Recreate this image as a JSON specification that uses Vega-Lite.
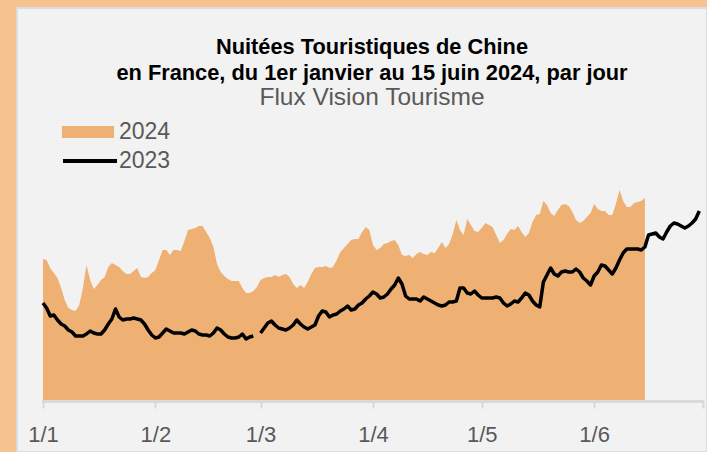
{
  "$schema": "https://vega.github.io/schema/vega-lite/v6.json",
  "width": 690,
  "height": 444,
  "autosize": "none",
  "padding": {"left": 17, "top": 8, "right": 0, "bottom": 0},
  "background": "#F6C290",
  "title": {
    "text": ["Nuitées Touristiques de Chine", "en France, du 1er janvier au 15 juin 2024, par jour"],
    "subtitle": "Flux Vision Tourisme",
    "anchor": "middle",
    "frame": "group",
    "orient": "top",
    "offset": -101,
    "dx": 10,
    "font": "Liberation Sans",
    "fontSize": 21.8,
    "fontWeight": "bold",
    "color": "#000000",
    "lineHeight": 26,
    "subtitleFont": "Liberation Sans",
    "subtitleFontSize": 24.5,
    "subtitleColor": "#595959",
    "subtitlePadding": 1
  },
  "config": {
    "font": "Liberation Sans",
    "view": {"fill": "#F2F2F2", "stroke": "#D8DEE2", "strokeWidth": 2}
  },
  "data": {
    "values": [
      {"date": "2024-01-01", "v2024": 141, "v2023": 97},
      {"date": "2024-01-02", "v2024": 140, "v2023": 92},
      {"date": "2024-01-03", "v2024": 132, "v2023": 84},
      {"date": "2024-01-04", "v2024": 127, "v2023": 85},
      {"date": "2024-01-05", "v2024": 122, "v2023": 80},
      {"date": "2024-01-06", "v2024": 112, "v2023": 76},
      {"date": "2024-01-07", "v2024": 100, "v2023": 74},
      {"date": "2024-01-08", "v2024": 92, "v2023": 70},
      {"date": "2024-01-09", "v2024": 90, "v2023": 68},
      {"date": "2024-01-10", "v2024": 89, "v2023": 64},
      {"date": "2024-01-11", "v2024": 95, "v2023": 64},
      {"date": "2024-01-12", "v2024": 112, "v2023": 64},
      {"date": "2024-01-13", "v2024": 135, "v2023": 66},
      {"date": "2024-01-14", "v2024": 120, "v2023": 69},
      {"date": "2024-01-15", "v2024": 111, "v2023": 67},
      {"date": "2024-01-16", "v2024": 115, "v2023": 66},
      {"date": "2024-01-17", "v2024": 120, "v2023": 66},
      {"date": "2024-01-18", "v2024": 123, "v2023": 70},
      {"date": "2024-01-19", "v2024": 133, "v2023": 76},
      {"date": "2024-01-20", "v2024": 137, "v2023": 81},
      {"date": "2024-01-21", "v2024": 135, "v2023": 91},
      {"date": "2024-01-22", "v2024": 133, "v2023": 83},
      {"date": "2024-01-23", "v2024": 129, "v2023": 80},
      {"date": "2024-01-24", "v2024": 126, "v2023": 81},
      {"date": "2024-01-25", "v2024": 126, "v2023": 81},
      {"date": "2024-01-26", "v2024": 129, "v2023": 82},
      {"date": "2024-01-27", "v2024": 132, "v2023": 81},
      {"date": "2024-01-28", "v2024": 123, "v2023": 80},
      {"date": "2024-01-29", "v2024": 122, "v2023": 76},
      {"date": "2024-01-30", "v2024": 123, "v2023": 70},
      {"date": "2024-01-31", "v2024": 127, "v2023": 65},
      {"date": "2024-02-01", "v2024": 130, "v2023": 62},
      {"date": "2024-02-02", "v2024": 140, "v2023": 63},
      {"date": "2024-02-03", "v2024": 150, "v2023": 67},
      {"date": "2024-02-04", "v2024": 150, "v2023": 71},
      {"date": "2024-02-05", "v2024": 145, "v2023": 69},
      {"date": "2024-02-06", "v2024": 150, "v2023": 67},
      {"date": "2024-02-07", "v2024": 150, "v2023": 67},
      {"date": "2024-02-08", "v2024": 149, "v2023": 67},
      {"date": "2024-02-09", "v2024": 159, "v2023": 66},
      {"date": "2024-02-10", "v2024": 170, "v2023": 68},
      {"date": "2024-02-11", "v2024": 171, "v2023": 70},
      {"date": "2024-02-12", "v2024": 172, "v2023": 69},
      {"date": "2024-02-13", "v2024": 174, "v2023": 66},
      {"date": "2024-02-14", "v2024": 174, "v2023": 65},
      {"date": "2024-02-15", "v2024": 168, "v2023": 65},
      {"date": "2024-02-16", "v2024": 162, "v2023": 64},
      {"date": "2024-02-17", "v2024": 153, "v2023": 67},
      {"date": "2024-02-18", "v2024": 136, "v2023": 72},
      {"date": "2024-02-19", "v2024": 128, "v2023": 70},
      {"date": "2024-02-20", "v2024": 124, "v2023": 66},
      {"date": "2024-02-21", "v2024": 121, "v2023": 63},
      {"date": "2024-02-22", "v2024": 119, "v2023": 62},
      {"date": "2024-02-23", "v2024": 119, "v2023": 62},
      {"date": "2024-02-24", "v2024": 119, "v2023": 63},
      {"date": "2024-02-25", "v2024": 112, "v2023": 66},
      {"date": "2024-02-26", "v2024": 107, "v2023": 61},
      {"date": "2024-02-27", "v2024": 107, "v2023": 63},
      {"date": "2024-02-28", "v2024": 109, "v2023": 64},
      {"date": "2024-02-29", "v2024": 113, "v2023": null},
      {"date": "2024-03-01", "v2024": 120, "v2023": 67},
      {"date": "2024-03-02", "v2024": 122, "v2023": 72},
      {"date": "2024-03-03", "v2024": 123, "v2023": 77},
      {"date": "2024-03-04", "v2024": 123, "v2023": 79},
      {"date": "2024-03-05", "v2024": 125, "v2023": 75},
      {"date": "2024-03-06", "v2024": 123, "v2023": 72},
      {"date": "2024-03-07", "v2024": 125, "v2023": 71},
      {"date": "2024-03-08", "v2024": 126, "v2023": 70},
      {"date": "2024-03-09", "v2024": 123, "v2023": 72},
      {"date": "2024-03-10", "v2024": 116, "v2023": 75},
      {"date": "2024-03-11", "v2024": 112, "v2023": 80},
      {"date": "2024-03-12", "v2024": 115, "v2023": 76},
      {"date": "2024-03-13", "v2024": 112, "v2023": 73},
      {"date": "2024-03-14", "v2024": 118, "v2023": 71},
      {"date": "2024-03-15", "v2024": 126, "v2023": 73},
      {"date": "2024-03-16", "v2024": 132, "v2023": 75},
      {"date": "2024-03-17", "v2024": 133, "v2023": 84},
      {"date": "2024-03-18", "v2024": 133, "v2023": 89},
      {"date": "2024-03-19", "v2024": 134, "v2023": 88},
      {"date": "2024-03-20", "v2024": 132, "v2023": 83},
      {"date": "2024-03-21", "v2024": 133, "v2023": 85},
      {"date": "2024-03-22", "v2024": 140, "v2023": 86},
      {"date": "2024-03-23", "v2024": 148, "v2023": 89},
      {"date": "2024-03-24", "v2024": 152, "v2023": 91},
      {"date": "2024-03-25", "v2024": 156, "v2023": 94},
      {"date": "2024-03-26", "v2024": 160, "v2023": 90},
      {"date": "2024-03-27", "v2024": 161, "v2023": 91},
      {"date": "2024-03-28", "v2024": 161, "v2023": 95},
      {"date": "2024-03-29", "v2024": 168, "v2023": 97},
      {"date": "2024-03-30", "v2024": 173, "v2023": 101},
      {"date": "2024-03-31", "v2024": 170, "v2023": 104},
      {"date": "2024-04-01", "v2024": 155, "v2023": 108},
      {"date": "2024-04-02", "v2024": 150, "v2023": 106},
      {"date": "2024-04-03", "v2024": 152, "v2023": 102},
      {"date": "2024-04-04", "v2024": 156, "v2023": 103},
      {"date": "2024-04-05", "v2024": 157, "v2023": 106},
      {"date": "2024-04-06", "v2024": 159, "v2023": 111},
      {"date": "2024-04-07", "v2024": 160, "v2023": 115},
      {"date": "2024-04-08", "v2024": 155, "v2023": 122},
      {"date": "2024-04-09", "v2024": 145, "v2023": 116},
      {"date": "2024-04-10", "v2024": 144, "v2023": 104},
      {"date": "2024-04-11", "v2024": 145, "v2023": 101},
      {"date": "2024-04-12", "v2024": 142, "v2023": 101},
      {"date": "2024-04-13", "v2024": 146, "v2023": 101},
      {"date": "2024-04-14", "v2024": 148, "v2023": 99},
      {"date": "2024-04-15", "v2024": 146, "v2023": 103},
      {"date": "2024-04-16", "v2024": 145, "v2023": 101},
      {"date": "2024-04-17", "v2024": 148, "v2023": 99},
      {"date": "2024-04-18", "v2024": 147, "v2023": 97},
      {"date": "2024-04-19", "v2024": 152, "v2023": 95},
      {"date": "2024-04-20", "v2024": 158, "v2023": 94},
      {"date": "2024-04-21", "v2024": 152, "v2023": 95},
      {"date": "2024-04-22", "v2024": 156, "v2023": 98},
      {"date": "2024-04-23", "v2024": 166, "v2023": 98},
      {"date": "2024-04-24", "v2024": 180, "v2023": 99},
      {"date": "2024-04-25", "v2024": 170, "v2023": 112},
      {"date": "2024-04-26", "v2024": 165, "v2023": 112},
      {"date": "2024-04-27", "v2024": 181, "v2023": 107},
      {"date": "2024-04-28", "v2024": 175, "v2023": 106},
      {"date": "2024-04-29", "v2024": 169, "v2023": 109},
      {"date": "2024-04-30", "v2024": 168, "v2023": 105},
      {"date": "2024-05-01", "v2024": 172, "v2023": 102},
      {"date": "2024-05-02", "v2024": 177, "v2023": 102},
      {"date": "2024-05-03", "v2024": 175, "v2023": 102},
      {"date": "2024-05-04", "v2024": 173, "v2023": 102},
      {"date": "2024-05-05", "v2024": 165, "v2023": 103},
      {"date": "2024-05-06", "v2024": 157, "v2023": 102},
      {"date": "2024-05-07", "v2024": 160, "v2023": 97},
      {"date": "2024-05-08", "v2024": 166, "v2023": 94},
      {"date": "2024-05-09", "v2024": 171, "v2023": 96},
      {"date": "2024-05-10", "v2024": 170, "v2023": 99},
      {"date": "2024-05-11", "v2024": 174, "v2023": 98},
      {"date": "2024-05-12", "v2024": 168, "v2023": 102},
      {"date": "2024-05-13", "v2024": 163, "v2023": 107},
      {"date": "2024-05-14", "v2024": 167, "v2023": 105},
      {"date": "2024-05-15", "v2024": 178, "v2023": 99},
      {"date": "2024-05-16", "v2024": 185, "v2023": 95},
      {"date": "2024-05-17", "v2024": 186, "v2023": 93},
      {"date": "2024-05-18", "v2024": 199, "v2023": 118},
      {"date": "2024-05-19", "v2024": 195, "v2023": 125},
      {"date": "2024-05-20", "v2024": 187, "v2023": 132},
      {"date": "2024-05-21", "v2024": 184, "v2023": 126},
      {"date": "2024-05-22", "v2024": 190, "v2023": 124},
      {"date": "2024-05-23", "v2024": 195, "v2023": 128},
      {"date": "2024-05-24", "v2024": 196, "v2023": 129},
      {"date": "2024-05-25", "v2024": 194, "v2023": 128},
      {"date": "2024-05-26", "v2024": 188, "v2023": 128},
      {"date": "2024-05-27", "v2024": 180, "v2023": 131},
      {"date": "2024-05-28", "v2024": 177, "v2023": 128},
      {"date": "2024-05-29", "v2024": 179, "v2023": 122},
      {"date": "2024-05-30", "v2024": 183, "v2023": 119},
      {"date": "2024-05-31", "v2024": 187, "v2023": 115},
      {"date": "2024-06-01", "v2024": 196, "v2023": 124},
      {"date": "2024-06-02", "v2024": 191, "v2023": 128},
      {"date": "2024-06-03", "v2024": 189, "v2023": 135},
      {"date": "2024-06-04", "v2024": 189, "v2023": 134},
      {"date": "2024-06-05", "v2024": 185, "v2023": 130},
      {"date": "2024-06-06", "v2024": 185, "v2023": 126},
      {"date": "2024-06-07", "v2024": 196, "v2023": 132},
      {"date": "2024-06-08", "v2024": 210, "v2023": 140},
      {"date": "2024-06-09", "v2024": 199, "v2023": 147},
      {"date": "2024-06-10", "v2024": 193, "v2023": 151},
      {"date": "2024-06-11", "v2024": 193, "v2023": 151},
      {"date": "2024-06-12", "v2024": 197, "v2023": 151},
      {"date": "2024-06-13", "v2024": 198, "v2023": 151},
      {"date": "2024-06-14", "v2024": 199, "v2023": 150},
      {"date": "2024-06-15", "v2024": 202, "v2023": 153},
      {"date": "2024-06-16", "v2024": null, "v2023": 165},
      {"date": "2024-06-17", "v2024": null, "v2023": 166},
      {"date": "2024-06-18", "v2024": null, "v2023": 167},
      {"date": "2024-06-19", "v2024": null, "v2023": 163},
      {"date": "2024-06-20", "v2024": null, "v2023": 161},
      {"date": "2024-06-21", "v2024": null, "v2023": 168},
      {"date": "2024-06-22", "v2024": null, "v2023": 174},
      {"date": "2024-06-23", "v2024": null, "v2023": 177},
      {"date": "2024-06-24", "v2024": null, "v2023": 176},
      {"date": "2024-06-25", "v2024": null, "v2023": 174},
      {"date": "2024-06-26", "v2024": null, "v2023": 172},
      {"date": "2024-06-27", "v2024": null, "v2023": 174},
      {"date": "2024-06-28", "v2024": null, "v2023": 177},
      {"date": "2024-06-29", "v2024": null, "v2023": 181},
      {"date": "2024-06-30", "v2024": null, "v2023": 189}
    ]
  },
  "encoding": {
    "x": {
      "field": "date",
      "type": "temporal",
      "scale": {
        "type": "utc",
        "domain": [
          {"year": 2023, "month": 12, "date": 24, "hours": 20, "utc": true},
          {"year": 2024, "month": 7, "date": 2, "hours": 3, "utc": true}
        ]
      },
      "axis": {
        "orient": "bottom",
        "offset": -51,
        "title": null,
        "domain": false,
        "grid": false,
        "ticks": true,
        "tickColor": "#D9D9D9",
        "tickWidth": 2,
        "tickSize": 7,
        "labelFontSize": 22,
        "labelColor": "#595959",
        "labelPadding": 16,
        "labelAlign": "center",
        "labelFlush": false,
        "labelOverlap": false,
        "values": [
          {"year": 2024, "month": 1, "date": 1, "utc": true},
          {"year": 2024, "month": 2, "date": 1, "utc": true},
          {"year": 2024, "month": 3, "date": 1, "utc": true},
          {"year": 2024, "month": 4, "date": 1, "utc": true},
          {"year": 2024, "month": 5, "date": 1, "utc": true},
          {"year": 2024, "month": 6, "date": 1, "utc": true},
          {"year": 2024, "month": 7, "date": 1, "utc": true}
        ],
        "labelExpr": "utcmonth(datum.value) == 6 ? '' : utcFormat(datum.value, '%-d/%-m')"
      }
    }
  },
  "layer": [
    {
      "mark": {"type": "area", "opacity": 1, "invalid": "break-paths-show-domains"},
      "encoding": {
        "y": {
          "field": "v2024",
          "type": "quantitative",
          "scale": {"domain": [-52, 392], "zero": false, "nice": false},
          "axis": null
        },
        "y2": {"datum": 0},
        "fill": {
          "datum": "2024",
          "type": "nominal",
          "scale": {"domain": ["2024"], "range": ["#EFB073"]},
          "legend": {
            "orient": "none",
            "legendX": 45,
            "legendY": 98,
            "title": null,
            "padding": 0,
            "symbolType": "M-1,-0.23H1V0.23H-1Z",
            "symbolSize": 2704,
            "symbolStrokeWidth": 0,
            "labelFontSize": 23,
            "labelColor": "#595959",
            "labelOffset": 5
          }
        }
      }
    },
    {
      "mark": {"type": "line", "strokeWidth": 3.5, "strokeJoin": "round", "invalid": "break-paths-show-domains"},
      "encoding": {
        "y": {"field": "v2023", "type": "quantitative"},
        "stroke": {
          "datum": "2023",
          "type": "nominal",
          "scale": {"domain": ["2023"], "range": ["#000000"]},
          "legend": {
            "orient": "none",
            "legendX": 44,
            "legendY": 124,
            "title": null,
            "padding": 0,
            "symbolType": "stroke",
            "symbolSize": 2916,
            "symbolStrokeWidth": 4,
            "labelFontSize": 23,
            "labelColor": "#595959",
            "labelOffset": 0
          }
        }
      }
    },
    {
      "mark": {"type": "rule", "color": "#D9D9D9", "strokeWidth": 2, "strokeCap": "square"},
      "encoding": {
        "x": {"datum": {"year": 2024, "month": 1, "date": 1, "utc": true}},
        "x2": {"datum": {"year": 2024, "month": 7, "date": 1, "utc": true}},
        "y": {"datum": -1.5}
      }
    }
  ]
}
